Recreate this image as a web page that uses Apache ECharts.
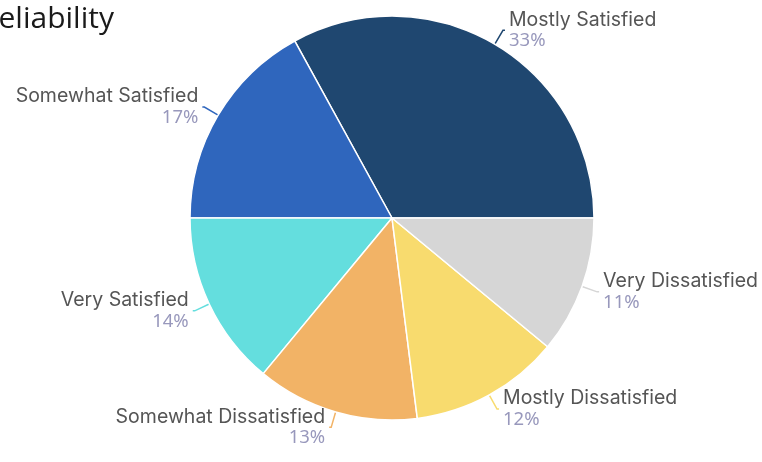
<!DOCTYPE html>
<html>
<head>
<meta charset="utf-8">
<script src="https://cdn.jsdelivr.net/npm/echarts@6/dist/echarts.min.js"></script>
<style>
  html, body { margin: 0; padding: 0; background: #fff; }
  #chart { width: 762px; height: 462px; }
</style>
</head>
<body>
<div id="chart"></div>
<script>
// Satisfaction shares (percent of responses)
const categories = [
  'Mostly Satisfied',
  'Somewhat Satisfied',
  'Very Satisfied',
  'Somewhat Dissatisfied',
  'Mostly Dissatisfied',
  'Very Dissatisfied'
];
const shares = [33, 17, 14, 13, 12, 11];
const sliceColors = ['#1f4770', '#2f66bd', '#64dede', '#f2b366', '#f8db6e', '#d6d6d6'];

const chart = echarts.init(document.getElementById('chart'));

chart.setOption({
  animation: false,
  title: {
    text: 'Reliability',
    left: -25,
    top: -1,
    textStyle: { fontFamily: 'Open Sans', fontSize: 30, fontWeight: 'normal', color: '#1a1a1a' }
  },
  series: [{
    type: 'pie',
    center: [392, 218],
    radius: 202,
    startAngle: 0,
    clockwise: false,
    avoidLabelOverlap: false,
    itemStyle: { borderColor: '#fff', borderWidth: 1.5 },
    label: {
      show: true,
      position: 'outside',
      formatter: p => '{n|' + p.name + '}\n{p|' + p.value + '%}',
      distanceToLabelLine: 4,
      rich: {
        n: { fontFamily: 'Inter', fontSize: 19.5, color: '#555', lineHeight: 21 },
        p: { fontFamily: 'Noto Sans', fontSize: 18.5, fontStyle: 'normal', color: '#9898bc', lineHeight: 21 }
      }
    },
    labelLine: {
      show: true,
      length: 16,
      length2: 2,
      smooth: false,
      lineStyle: { width: 1.5 }
    },
    emphasis: { disabled: true },
    data: categories.map((name, i) => ({
      name,
      value: shares[i],
      itemStyle: { color: sliceColors[i] },
      labelLine: { lineStyle: { color: sliceColors[i] } }
    }))
  }]
});
</script>
</body>
</html>
